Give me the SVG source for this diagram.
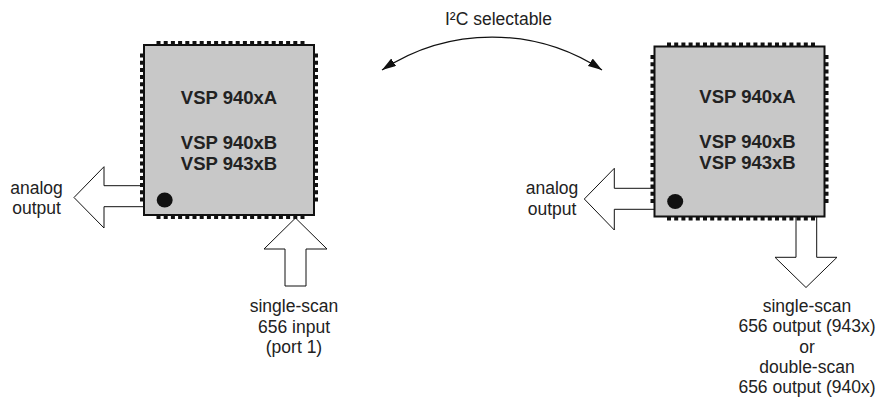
<svg xmlns="http://www.w3.org/2000/svg" xmlns:xlink="http://www.w3.org/1999/xlink" width="878" height="410" viewBox="0 0 878 410">
<style>
.lbl{font-family:"Liberation Sans",Arial,sans-serif;font-size:17.5px;fill:#222;text-anchor:middle}
.chipt{font-family:"Liberation Sans",Arial,sans-serif;font-size:18.5px;font-weight:bold;fill:#222;text-anchor:middle}
.blk{fill:#fff;stroke:#111;stroke-width:1;stroke-linejoin:miter}
.pin{stroke:#111;stroke-width:4;stroke-dasharray:4 3.2;fill:none}
.body{fill:#c8c8c8;stroke:#111;stroke-width:2}
</style>
<defs>
<marker id="ah" markerUnits="userSpaceOnUse" markerWidth="15" markerHeight="10" refX="14" refY="4.5" orient="auto-start-reverse" viewBox="0 0 15 10">
<path d="M0,0 L14,4.5 L0,9 z" fill="#111"/>
</marker>
<g id="chipShape">
<line class="pin" x1="156.5" y1="43" x2="304.5" y2="43"/>
<line class="pin" x1="156.5" y1="217" x2="304.5" y2="217"/>
<line class="pin" x1="142" y1="53.5" x2="142" y2="201.5"/>
<line class="pin" x1="316" y1="53.5" x2="316" y2="201.5"/>
<rect class="body" x="144" y="45" width="170" height="170"/>
<ellipse cx="164.7" cy="200" rx="8" ry="7.4" fill="#111"/>
</g>
</defs>

<g id="connectors">
<path d="M382,70 A200,200 0 0,1 602,70" fill="none" stroke="#111" stroke-width="1.3" marker-start="url(#ah)" marker-end="url(#ah)"/>
<polygon class="blk" points="146,185.7 104,185.7 104,166.7 74,197.5 104,228 104,206.7 146,206.7"/>
<polygon class="blk" points="285,286 285,249 264,249 295.5,218 327,249 306,249 306,286"/>
<polygon class="blk" points="656,188.3 614.3,188.3 614.3,168.3 584.3,199 614.3,230 614.3,209.3 656,209.3"/>
<polygon class="blk" points="796,214 796,257.3 775,257.3 806,287.5 837,257.3 816.7,257.3 816.7,214"/>
</g>

<g id="chip1">
<use xlink:href="#chipShape"/>
<text class="chipt" x="229" y="104">VSP 940xA</text>
<text class="chipt" x="229" y="149">VSP 940xB</text>
<text class="chipt" x="229" y="170">VSP 943xB</text>
</g>

<g id="chip2">
<use xlink:href="#chipShape" transform="translate(510.5,1.5)"/>
<text class="chipt" x="747.5" y="103">VSP 940xA</text>
<text class="chipt" x="747.5" y="147.5">VSP 940xB</text>
<text class="chipt" x="747.5" y="169">VSP 943xB</text>
</g>

<g id="i2c-label">
<text class="lbl" x="498.5" y="25">I²C selectable</text>
</g>

<g id="analog-out-1">
<text class="lbl" x="36.5" y="194">analog</text>
<text class="lbl" x="36.5" y="214">output</text>
</g>

<g id="input-1">
<text class="lbl" x="294" y="312">single-scan</text>
<text class="lbl" x="294" y="332.5">656 input</text>
<text class="lbl" x="294" y="353">(port 1)</text>
</g>

<g id="analog-out-2">
<text class="lbl" x="552" y="194">analog</text>
<text class="lbl" x="552" y="215">output</text>
</g>

<g id="output-2">
<text class="lbl" x="807" y="312">single-scan</text>
<text class="lbl" x="807" y="332">656 output (943x)</text>
<text class="lbl" x="807" y="352.5">or</text>
<text class="lbl" x="807" y="373">double-scan</text>
<text class="lbl" x="807" y="393">656 output (940x)</text>
</g>
</svg>
